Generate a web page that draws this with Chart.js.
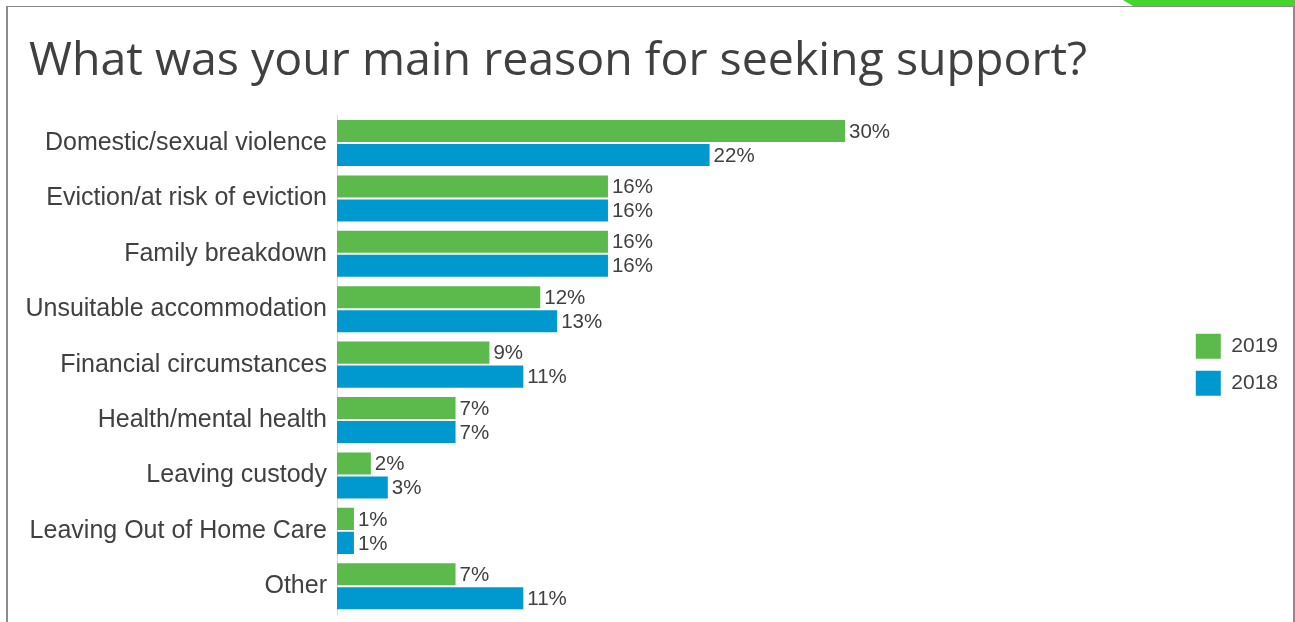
<!DOCTYPE html>
<html>
<head>
<meta charset="utf-8">
<script src="https://cdn.jsdelivr.net/npm/chart.js@4"></script>
<style>
  html, body { margin: 0; padding: 0; background: #fff; }
  #wrap { position: relative; width: 1295px; height: 622px; overflow: hidden; }
  #frame {
    position: absolute; left: 6px; top: 6px; width: 1285px; height: 700px;
    border-left: 2px solid #8c8c8c; border-top: 1px solid #8c8c8c; border-right: 2px solid #8c8c8c;
    pointer-events: none;
  }
  #tab {
    position: absolute; left: 1123px; top: 0; width: 172px; height: 6px;
    background: #44d62c; clip-path: polygon(0 0, 100% 0, 100% 100%, 10px 100%);
  }
  canvas { position: absolute; left: 0; top: 0; }
</style>
</head>
<body>
<div id="wrap">
  <canvas id="reasonChart" width="1295" height="622"></canvas>
  <div id="frame"></div>
  <div id="tab"></div>
</div>
<script>
const reasons = [
  'Domestic/sexual violence',
  'Eviction/at risk of eviction',
  'Family breakdown',
  'Unsuitable accommodation',
  'Financial circumstances',
  'Health/mental health',
  'Leaving custody',
  'Leaving Out of Home Care',
  'Other'
]
const pct2019 = [30, 16, 16, 12, 9, 7, 2, 1, 7]
const pct2018 = [22, 16, 16, 13, 11, 7, 3, 1, 11]

const fontFamily = '"Liberation Sans", Arial, sans-serif'
const textColor = '#404040'

// percentage text just past the end of each bar
const barValueLabels = {
  id: 'barValueLabels',
  afterDatasetsDraw(chart) {
    const ctx = chart.ctx
    ctx.save()
    ctx.font = '20.5px ' + fontFamily
    ctx.fillStyle = textColor
    ctx.textBaseline = 'middle'
    ctx.textAlign = 'left'
    chart.data.datasets.forEach(function(ds, i) {
      chart.getDatasetMeta(i).data.forEach(function(bar, j) {
        ctx.fillText(ds.data[j] + '%', bar.x + 4, bar.y + 1)
      })
    })
    ctx.restore()
  }
}

// long category names run a little left of the title margin, so widen the label clip
const labelRoom = {
  id: 'labelRoom',
  afterLayout(chart) {
    chart.scales.y.left = 0
  }
}

const data = {
  labels: reasons,
  datasets: [
    {
      label: '2019',
      data: pct2019,
      backgroundColor: '#5bba4b',
      borderWidth: 0
    },
    {
      label: '2018',
      data: pct2018,
      backgroundColor: '#0099cf',
      borderWidth: 0
    }
  ]
}

const config = {
  type: 'bar',
  data: data,
  plugins: [barValueLabels, labelRoom],
  options: {
    indexAxis: 'y',
    responsive: false,
    animation: false,
    categoryPercentage: 0.866,
    barPercentage: 0.92,
    layout: {
      padding: { left: 29, right: 7, top: 0, bottom: 8 }
    },
    plugins: {
      title: {
        display: true,
        text: 'What was your main reason for seeking support?',
        align: 'start',
        color: textColor,
        font: { family: '"Open Sans", sans-serif', size: 46.5, weight: 'normal', lineHeight: 1.2 },
        padding: { top: 34, bottom: 25.5 }
      },
      legend: {
        position: 'right',
        fullSize: false,
        labels: {
          boxWidth: 25,
          boxHeight: 25,
          padding: 12,
          color: textColor,
          font: { family: fontFamily, size: 21 }
        }
      },
      tooltip: { enabled: false }
    },
    scales: {
      x: {
        display: false,
        min: 0,
        max: 50
      },
      y: {
        afterFit: function(scale) {
          scale.width = 308
          scale.paddingTop = 0
          scale.paddingBottom = 0
        },
        grid: { display: false, drawTicks: false },
        border: { display: true, color: '#d9d9d9', width: 1 },
        ticks: {
          padding: 10,
          color: textColor,
          font: { family: fontFamily, size: 25 }
        }
      }
    }
  }
}

new Chart(document.getElementById('reasonChart'), config)
</script>
</body>
</html>
